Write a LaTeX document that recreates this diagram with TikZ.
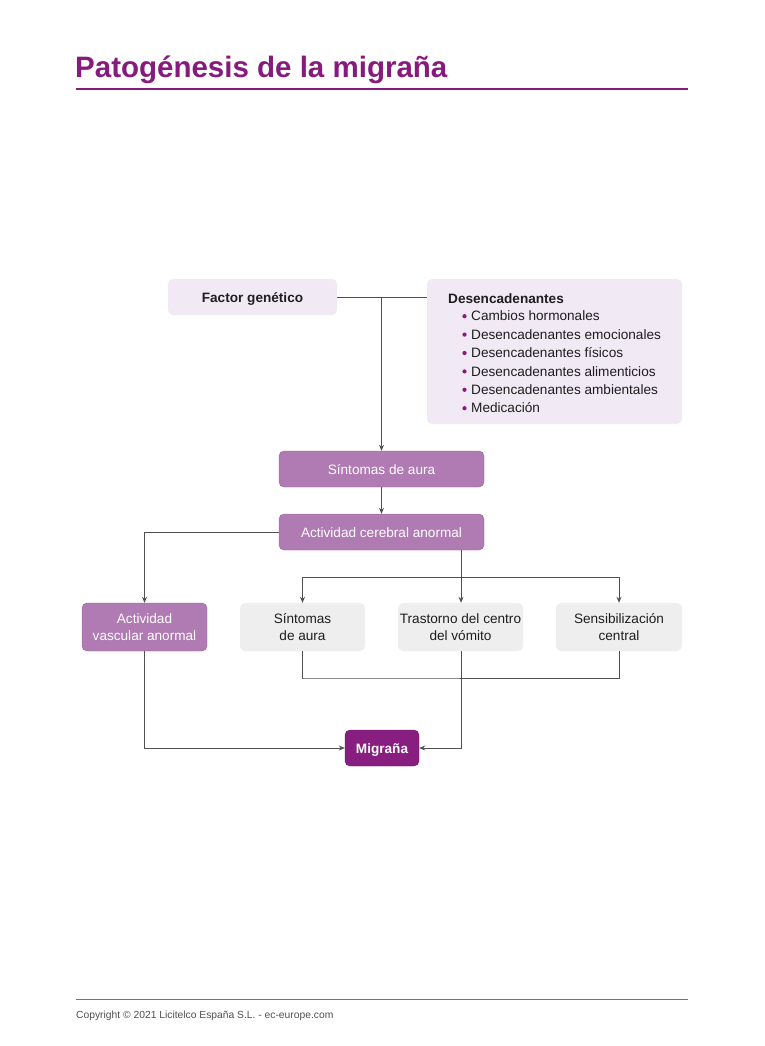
\documentclass[tikz,border=0pt]{standalone}
\usepackage{fontspec}
\setmainfont{Liberation Sans}
\usetikzlibrary{arrows.meta,positioning}
\definecolor{ttl}{RGB}{134,27,125}
\definecolor{lightbox}{RGB}{241,233,244}
\definecolor{midbox}{RGB}{176,122,178}
\definecolor{greybox}{RGB}{238,238,238}
\definecolor{darkbox}{RGB}{136,30,128}
\definecolor{linec}{RGB}{80,80,80}
\definecolor{txt}{RGB}{30,30,30}
\tikzset{
  base/.style={rounded corners=5pt, inner sep=0pt, align=center, font=\fontsize{13.6}{16.5}\selectfont},
  lightnode/.style={base, fill=lightbox, text=txt},
  midnode/.style={base, fill=midbox, text=white, draw=midbox!85!black, line width=0.4pt},
  greynode/.style={base, fill=greybox, text=txt},
  darknode/.style={base, fill=darkbox, text=white, draw=darkbox!80!black, line width=0.4pt, font=\fontsize{13.6}{16.5}\selectfont\bfseries},
  oneline/.style={text height=10pt, text depth=0pt},
  conn/.style={draw=linec, line width=1pt},
  arr/.style={conn, -{Stealth[length=6pt,width=5pt]}},
}
\begin{document}
\begin{tikzpicture}[x=1pt,y=-1pt]
\useasboundingbox (0,0) rectangle (764,1046);
\fill[white] (0,0) rectangle (764,1046);
% title
\node[anchor=base west, inner sep=0pt, text=ttl, font=\fontsize{29.5}{33}\selectfont\bfseries] (title) at (75,78) {Patogénesis de la migraña};
\draw[ttl, line width=2pt] (76,89) -- (688,89);
% top boxes
\node[lightnode, oneline, minimum width=169pt, minimum height=36pt, font=\fontsize{13.6}{16.5}\selectfont\bfseries] (fg) at (252.5,297) {Factor genético};
\node[lightnode, minimum width=255pt, minimum height=145pt] (des) at (554.5,351.5) {};
\node[anchor=base west, inner sep=0pt, text=txt, font=\fontsize{13.6}{16.5}\selectfont\bfseries] (desT) at (448,303) {Desencadenantes};
\foreach \t [count=\i] in {Cambios hormonales, Desencadenantes emocionales, Desencadenantes físicos, Desencadenantes alimenticios, Desencadenantes ambientales, Medicación}{
  \node[anchor=base west, inner sep=0pt, text=txt, font=\fontsize{13.6}{16.5}\selectfont] (b\i) at (471,302.5+18.4*\i) {\t};
  \fill[ttl] (464.5,297.8+18.4*\i) circle (2.1pt);
}
% middle
\node[midnode, oneline, minimum width=205pt, minimum height=36pt] (sa) at (381.5,469) {Síntomas de aura};
\node[midnode, oneline, minimum width=205pt, minimum height=36pt] (ac) at (381.5,532) {Actividad cerebral anormal};
% row
\node[midnode, minimum width=125pt, minimum height=48pt] (av) at (144.5,627) {Actividad\\vascular anormal};
\node[greynode, minimum width=125pt, minimum height=48pt] (s2) at (302.5,627) {Síntomas\\de aura};
\node[greynode, minimum width=125pt, minimum height=48pt] (tr) at (460.5,627) {Trastorno del centro\\del vómito};
\node[greynode, minimum width=126pt, minimum height=48pt] (se) at (619,627) {Sensibilización\\central};
\node[darknode, oneline, minimum width=74pt, minimum height=36pt] (mg) at (382,748) {Migraña};
% connectors
\coordinate (j1) at (381.5,297);
\draw[conn] (fg.east) -- (des.west |- fg.east);
\draw[arr] (j1) -- (sa.north);
\draw[arr] (sa.south) -- (ac.north);
\draw[arr] (ac.west) -| (av.north);
\coordinate (j2) at (461,577);
\draw[conn] (ac.south -| j2) -- (j2);
\draw[arr] (j2) -| (s2.north);
\draw[arr] (j2) -| (se.north);
\draw[arr] (j2) -- (tr.north -| j2);
\draw[conn] (s2.south) |- (303,678) -| (se.south);
\draw[arr] (tr.south -| j2) |- (mg.east);
\draw[arr] (av.south) |- (mg.west);
% footer
\draw[linec!80, line width=0.8pt] (76,999) -- (688,999);
\node[anchor=base west, inner sep=0pt, text=linec, font=\fontsize{10.3}{12}\selectfont] (foot) at (76,1018) {Copyright © 2021 Licitelco España S.L. - ec-europe.com};
\end{tikzpicture}
\end{document}
